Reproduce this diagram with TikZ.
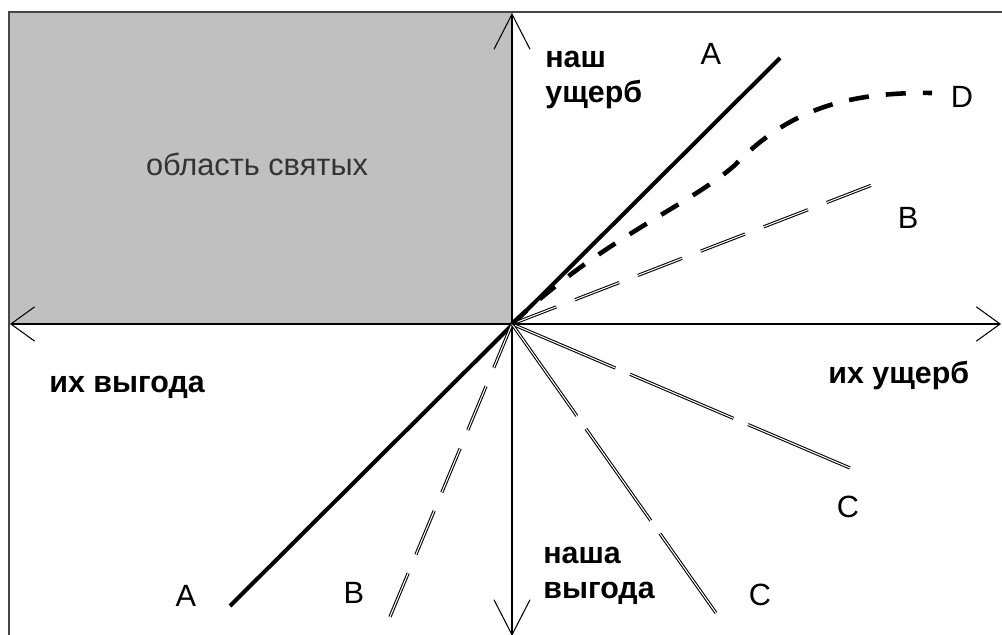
\documentclass[tikz,border=0pt]{standalone}
\usepackage{fontspec}
\setmainfont{Liberation Sans}
\usepackage{tikz}
\usetikzlibrary{arrows.meta, positioning}

\definecolor{saintgray}{RGB}{192,192,192}
\definecolor{framegray}{RGB}{70,70,70}

\begin{document}
\begin{tikzpicture}[
    x=0.02cm, y=-0.02cm,
    axis/.style={line width=0.6pt, arrows={Straight Barb[length=13.5pt,width=19.5pt]-Straight Barb[length=13.5pt,width=19.5pt]}},
    vaxis/.style={line width=0.6pt, arrows={Straight Barb[length=20pt,width=20.5pt]-Straight Barb[length=20pt,width=20.5pt]}},
    lineA/.style={line width=2.3pt},
    lineD/.style={line width=2.6pt, dash pattern=on 11.4pt off 9.7pt},
    lineB/.style={double=white, double distance=0.6pt, line width=0.6pt, dash pattern=on 27pt off 11.4pt},
    lineC/.style={double=white, double distance=0.6pt, line width=0.6pt, dash pattern=on 64pt off 9pt},
    bold/.style={font=\fontsize{17.3}{20}\selectfont\bfseries, inner sep=0pt, anchor=base west},
    letter/.style={font=\fontsize{17.5}{20}\selectfont, inner sep=0pt}
]
    \useasboundingbox (0,0) rectangle (1002,635);

    % zone of the saints and frame
    \fill[saintgray] (10,13) rectangle (512,324);
    \draw[framegray, line width=1.2pt] (9,635) -- (9,12) -- (1002,12);

    \coordinate (O) at (512,324);
    \coordinate (xl) at (10,324);
    \coordinate (xr) at (1001,324);
    \coordinate (yt) at (512,13);
    \coordinate (yb) at (512,636);

    \draw[axis] (xl) -- (xr);
    \draw[vaxis] (yb) -- (yt);

    % end points
    \coordinate (a1) at (230,606);
    \coordinate (a2) at (780,58);
    \coordinate (b1) at (885,180);
    \coordinate (b2) at (387,624);
    \coordinate (c1) at (850,468);
    \coordinate (c2) at (716,613);
    \coordinate (d1) at (932,93);

    \draw[lineA] (a1) -- (a2);
    \draw[lineB] (O) -- (b1);
    \draw[lineB] (O) -- (b2);
    \draw[lineC] (O) -- (c1);
    \draw[lineC] (O) -- (c2);
    \draw[lineD] (O) .. controls (600,240) and (690,205) .. (735,165)
        .. controls (790,108) and (850,92) .. (d1);

    % labels
    \node (saints) [letter, text=black!80, anchor=base] at (257,176) {область святых};
    \node (ourloss1) [bold] at (545,68) {наш};
    \node (ourloss2) [bold] at (545,103) {ущерб};
    \node (theirgain) [bold] at (49,393) {их выгода};
    \node (theirloss) [bold] at (828,383) {их ущерб};
    \node (ourgain1) [bold] at (543,563) {наша};
    \node (ourgain2) [bold] at (543,598) {выгода};

    \node (lA1) [letter] at (711,54) {A};
    \node (lD) [letter] at (962,97) {D};
    \node (lB1) [letter] at (908,218) {B};
    \node (lC1) [letter] at (848,507) {C};
    \node (lC2) [letter] at (760,595) {C};
    \node (lA2) [letter] at (186,596) {A};
    \node (lB2) [letter] at (354,593) {B};
\end{tikzpicture}
\end{document}
